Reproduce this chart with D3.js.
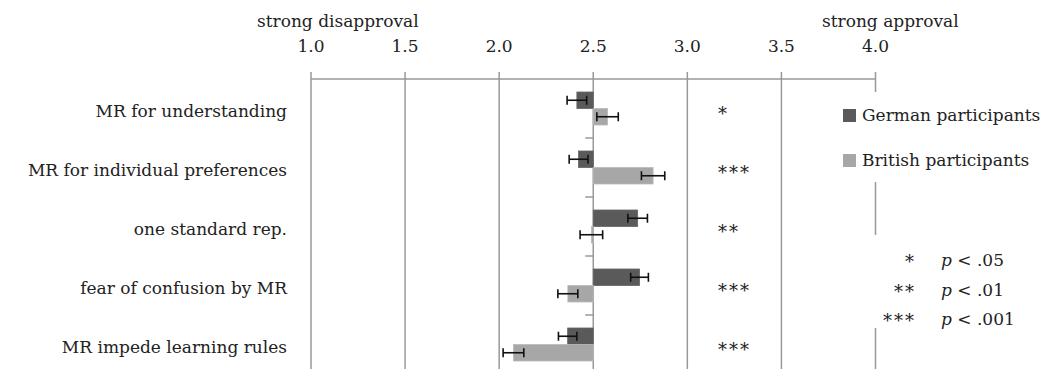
<!DOCTYPE html>
<html>
<head>
<meta charset="utf-8">
<script src="https://cdn.jsdelivr.net/npm/d3@7"></script>
<style>
  body { margin: 0; background: #fff; }
  svg text { font-family: "DejaVu Serif", serif; font-size: 17px; fill: #222; }
  svg text.star { letter-spacing: 2px; font-size: 18px; }
</style>
</head>
<body>
<svg id="chart" width="1057" height="369"></svg>
<script>
// values (mean rating, error half-width)
var categories = ["MR for understanding", "MR for individual preferences", "one standard rep.",
                  "fear of confusion by MR", "MR impede learning rules"];
var german = [2.413, 2.422, 2.736, 2.746, 2.364];
var germanErr = [0.052, 0.050, 0.052, 0.047, 0.049];
var british = [2.576, 2.818, 2.490, 2.365, 2.076];
var britishErr = [0.057, 0.062, 0.060, 0.053, 0.055];
var stars = ["*", "***", "**", "***", "***"];
var tickValues = [1.0, 1.5, 2.0, 2.5, 3.0, 3.5, 4.0];
var seriesNames = ["German participants", "British participants"];
var seriesColors = ["#5a5a5a", "#a7a7a7"];
var pLevels = [["*", ".05"], ["**", ".01"], ["***", ".001"]];

var svg = d3.select("#chart");
var gridColor = "#999";
var axisY = 79;

var x = d3.scaleLinear().domain([1, 4]).range([311, 875.5]);
var y = d3.scaleBand().domain(categories).range([axisY, axisY + 59 * categories.length]);
var barH = 16.5;

// vertical grid lines
svg.append("g").selectAll("line")
    .data(tickValues)
    .enter().append("line")
    .attr("x1", function (d) { return x(d); })
    .attr("x2", function (d) { return x(d); })
    .attr("y1", axisY - 7)
    .attr("y2", 369)
    .attr("stroke", gridColor)
    .attr("stroke-width", 1.5);

// top axis line
svg.append("line")
    .attr("x1", x(1)).attr("x2", x(4))
    .attr("y1", axisY).attr("y2", axisY)
    .attr("stroke", gridColor).attr("stroke-width", 1.5);

// tick labels
svg.append("g").selectAll("text")
    .data(tickValues)
    .enter().append("text")
    .attr("x", function (d) { return x(d); })
    .attr("y", 52)
    .attr("text-anchor", "middle")
    .text(function (d) { return d3.format(".1f")(d); });

svg.append("text").attr("x", 257).attr("y", 27).text("strong disapproval");
svg.append("text").attr("x", 822).attr("y", 27).text("strong approval");

// category ticks on the 2.5 line
svg.append("g").selectAll("line")
    .data(categories.slice(1))
    .enter().append("line")
    .attr("x1", x(2.5) - 8).attr("x2", x(2.5))
    .attr("y1", function (d) { return y(d); })
    .attr("y2", function (d) { return y(d); })
    .attr("stroke", gridColor).attr("stroke-width", 1.5);

// category labels
svg.append("g").selectAll("text")
    .data(categories)
    .enter().append("text")
    .attr("x", 287)
    .attr("y", function (d) { return y(d) + y.bandwidth() / 2 + 8; })
    .attr("text-anchor", "end")
    .text(function (d) { return d; });

// bars + error bars
function drawSeries(values, errs, color, offset) {
    var g = svg.append("g");
    g.selectAll("rect")
        .data(values)
        .enter().append("rect")
        .attr("x", function (d) { return Math.min(x(d), x(2.5)); })
        .attr("width", function (d) { return Math.abs(x(d) - x(2.5)); })
        .attr("y", function (d, i) { return y(categories[i]) + y.bandwidth() / 2 + offset; })
        .attr("height", barH)
        .attr("fill", color)
        .attr("stroke", d3.color(color).brighter(0.3))
        .attr("stroke-width", 0.8);

    var eb = g.selectAll("g.err")
        .data(values)
        .enter().append("g").attr("class", "err");
    var cy = function (d, i) { return y(categories[i]) + y.bandwidth() / 2 + offset + barH / 2; };
    eb.append("line")
        .attr("x1", function (d, i) { return x(d - errs[i]); })
        .attr("x2", function (d, i) { return x(d + errs[i]); })
        .attr("y1", cy).attr("y2", cy)
        .attr("stroke", "#111").attr("stroke-width", 1.6);
    [-1, 1].forEach(function (s) {
        eb.append("line")
            .attr("x1", function (d, i) { return x(d + s * errs[i]); })
            .attr("x2", function (d, i) { return x(d + s * errs[i]); })
            .attr("y1", function (d, i) { return cy(d, i) - 4.5; })
            .attr("y2", function (d, i) { return cy(d, i) + 4.5; })
            .attr("stroke", "#111").attr("stroke-width", 1.6);
    });
}
drawSeries(german, germanErr, seriesColors[0], -barH);
drawSeries(british, britishErr, seriesColors[1], 0);

// significance stars
svg.append("g").selectAll("text")
    .data(stars)
    .enter().append("text")
    .attr("class", "star")
    .attr("x", 718)
    .attr("y", function (d, i) { return y(categories[i]) + y.bandwidth() / 2 + 11; })
    .text(function (d) { return d; });

// legend
var leg = svg.append("g");
leg.append("rect").attr("x", 836).attr("y", 92).attr("width", 221).attr("height", 90).attr("fill", "#fff");
seriesNames.forEach(function (name, i) {
    leg.append("rect")
        .attr("x", 843).attr("y", 109 + i * 45)
        .attr("width", 13).attr("height", 13)
        .attr("fill", seriesColors[i]);
    leg.append("text")
        .attr("x", 862).attr("y", 121 + i * 45)
        .text(name);
});

// p-value legend
var pl = svg.append("g");
pl.append("rect").attr("x", 866).attr("y", 235).attr("width", 191).attr("height", 93).attr("fill", "#fff");
pLevels.forEach(function (p, i) {
    pl.append("text")
        .attr("class", "star")
        .attr("x", 916).attr("y", 268 + i * 29.5)
        .attr("text-anchor", "end")
        .text(p[0]);
    var t = pl.append("text")
        .attr("x", 941).attr("y", 266 + i * 29.5);
    t.append("tspan").attr("font-style", "italic").text("p");
    t.append("tspan").text(" < " + p[1]);
});
</script>
</body>
</html>
